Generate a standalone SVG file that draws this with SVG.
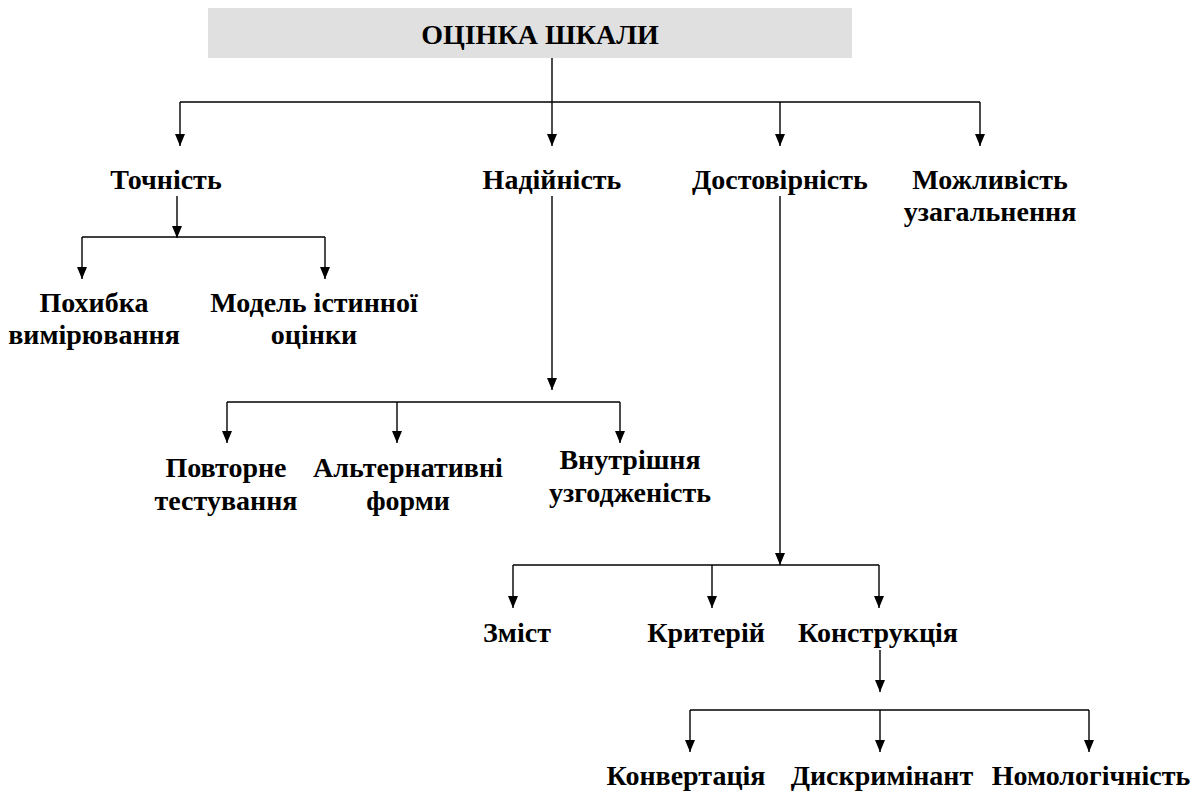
<svg xmlns="http://www.w3.org/2000/svg" width="1200" height="793" viewBox="0 0 1200 793">
<style>
.t{font-family:"Liberation Serif","DejaVu Serif Condensed","DejaVu Serif",serif;font-weight:bold;font-size:28px;fill:#000;text-anchor:middle}
.c{stroke:#000;stroke-width:1.4;fill:none}
.a{stroke:#000;stroke-width:1.4;fill:none;marker-end:url(#ah)}
</style>
<defs>
<marker id="ah" markerWidth="12" markerHeight="10" refX="12" refY="5" orient="auto" markerUnits="userSpaceOnUse" viewBox="0 0 12 10">
<path d="M0,0 L12,5 L0,10 Z" fill="#000"/>
</marker>
</defs>
<rect width="1200" height="793" fill="#fff"/>
<g id="root">
<rect x="208" y="8" width="644" height="50" fill="#e0e0e0"/>
<text class="t" x="540" y="44">ОЦІНКА ШКАЛИ</text>
</g>
<g id="n-tochnist"><text class="t" x="166" y="189">Точність</text></g>
<g id="n-nadiinist"><text class="t" x="552" y="189">Надійність</text></g>
<g id="n-dostovirnist"><text class="t" x="780" y="189">Достовірність</text></g>
<g id="n-mozhlyvist"><text class="t" x="990" y="189">Можливість</text><text class="t" x="990" y="221">узагальнення</text></g>
<g id="n-pokhybka"><text class="t" x="94" y="312">Похибка</text><text class="t" x="94" y="344">вимірювання</text></g>
<g id="n-model"><text class="t" x="314" y="312">Модель істинної</text><text class="t" x="314" y="344">оцінки</text></g>
<g id="n-povtorne"><text class="t" x="226" y="477">Повторне</text><text class="t" x="226" y="510">тестування</text></g>
<g id="n-alternatyvni"><text class="t" x="408" y="477">Альтернативні</text><text class="t" x="408" y="510">форми</text></g>
<g id="n-vnutrishnia"><text class="t" x="630" y="469">Внутрішня</text><text class="t" x="630" y="502">узгодженість</text></g>
<g id="n-zmist"><text class="t" x="517" y="642">Зміст</text></g>
<g id="n-kryterii"><text class="t" x="706" y="642">Критерій</text></g>
<g id="n-konstruktsiia"><text class="t" x="878" y="642">Конструкція</text></g>
<g id="n-konvertatsiia"><text class="t" x="686" y="785">Конвертація</text></g>
<g id="n-dyskryminant"><text class="t" x="882" y="785">Дискримінант</text></g>
<g id="n-nomolohichnist"><text class="t" x="1091" y="785">Номологічність</text></g>
<g id="connectors">
<path class="c" d="M552,58 V102 M180,102 H980"/>
<path class="a" d="M180,102 V146"/>
<path class="a" d="M552,102 V146"/>
<path class="a" d="M780,102 V146"/>
<path class="a" d="M980,102 V146"/>
<path class="a" d="M177,196 V238"/>
<path class="c" d="M82,237 H325"/>
<path class="a" d="M82,237 V279"/>
<path class="a" d="M325,237 V279"/>
<path class="a" d="M552,196 V390"/>
<path class="c" d="M227,402 H620"/>
<path class="a" d="M227,402 V443"/>
<path class="a" d="M397,402 V443"/>
<path class="a" d="M620,402 V443"/>
<path class="a" d="M780,196 V565"/>
<path class="c" d="M513,565 H879"/>
<path class="a" d="M513,565 V608"/>
<path class="a" d="M712,565 V608"/>
<path class="a" d="M879,565 V608"/>
<path class="a" d="M880,650 V692"/>
<path class="c" d="M690,710 H1089"/>
<path class="a" d="M690,710 V752"/>
<path class="a" d="M880,710 V752"/>
<path class="a" d="M1089,710 V752"/>
</g>
</svg>
